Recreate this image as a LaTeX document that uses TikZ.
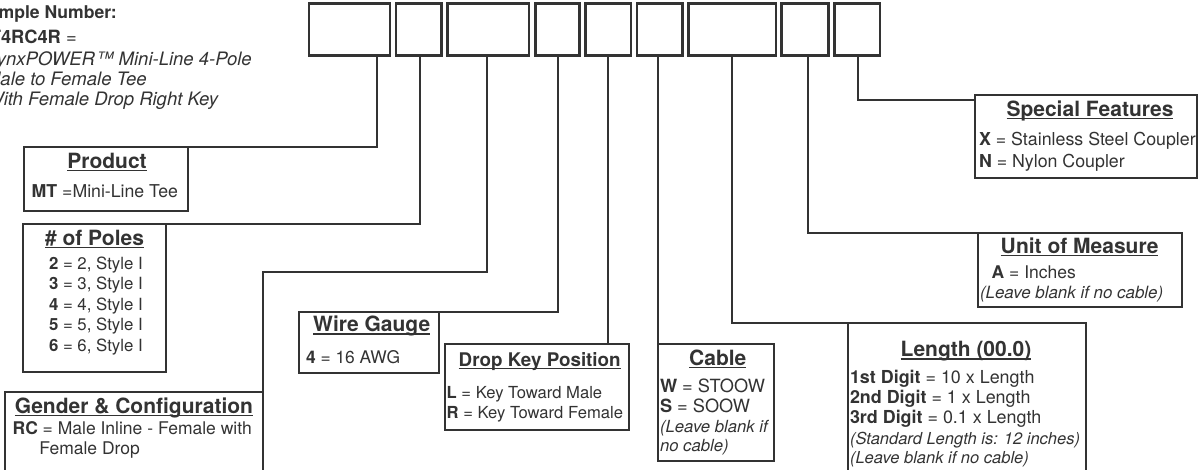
\documentclass[tikz,border=0pt]{standalone}
\usepackage{fontspec}
\setmainfont{TeX Gyre Heros}
\definecolor{ink}{HTML}{333333}
\newcommand{\hdrtext}[1]{\setbox0=\hbox{\bfseries #1}\rlap{\raisebox{-2.8pt}{\color{ink}\rule{\wd0}{1.3pt}}}\box0}
\newcommand{\fsz}[1]{\fontsize{#1}{#1}\selectfont}
\tikzset{
  codebox/.style={draw=ink, line width=2.4pt, inner sep=0pt, outer sep=0pt, anchor=north west, minimum height=52pt},
  descbox/.style={draw=ink, line width=2pt, inner sep=0pt, outer sep=0pt, anchor=north west},
  conn/.style={draw=ink, line width=2pt},
  txt/.style={inner sep=0pt, outer sep=0pt, text=ink, anchor=base west},
  hdr/.style={inner sep=0pt, outer sep=0pt, text=ink, anchor=base, font=\fsz{21}},
}
\begin{document}
\begin{tikzpicture}[x=1pt,y=-1pt]
\useasboundingbox[fill=white] (0,0) rectangle (1199,469);

% example text (clipped at left edge)
\node[txt, anchor=base east, font=\fsz{17.6}] (ex1) at (116.7,18.3) {\textbf{Example Number:}};
\node[txt, anchor=base east, font=\fsz{18.3}] (ex2) at (76.7,43.3) {\textbf{MT4RC4R} =};
\node[txt, anchor=base east, font=\fsz{18.5}\itshape] (ex3) at (251.7,65) {LynxPOWER™ Mini-Line 4-Pole};
\node[txt, anchor=base east, font=\fsz{18.5}\itshape] (ex4) at (146.7,85.5) {Male to Female Tee};
\node[txt, anchor=base east, font=\fsz{18.5}\itshape] (ex5) at (218,105.5) {With Female Drop Right Key};

% code boxes
\node[codebox, minimum width=81pt]   (c1) at (309,3.5) {};
\node[codebox, minimum width=45.5pt] (c2) at (396,3.5) {};
\node[codebox, minimum width=81.5pt] (c3) at (447.5,3.5) {};
\node[codebox, minimum width=44pt]   (c4) at (535.5,3.5) {};
\node[codebox, minimum width=45.5pt] (c5) at (585.5,3.5) {};
\node[codebox, minimum width=45.5pt] (c6) at (637,3.5) {};
\node[codebox, minimum width=87.5pt] (c7) at (688.5,3.5) {};
\node[codebox, minimum width=47pt]   (c8) at (781.5,3.5) {};
\node[codebox, minimum width=45.5pt] (c9) at (834.5,3.5) {};

% description boxes
\node[descbox, minimum width=164pt, minimum height=64pt]    (prod)    at (24,147) {};
\node[descbox, minimum width=142.7pt, minimum height=148pt] (poles)   at (23,224) {};
\node[descbox, minimum width=258pt, minimum height=90pt]    (gender)  at (5,392) {};
\node[descbox, minimum width=139.7pt, minimum height=61pt]  (wire)    at (299.3,311.5) {};
\node[descbox, minimum width=184.3pt, minimum height=85.7pt](drop)    at (445,344.3) {};
\node[descbox, minimum width=116pt, minimum height=117pt]   (cable)   at (658.3,343.5) {};
\node[descbox, minimum width=238pt, minimum height=160pt]   (length)  at (847.5,322.5) {};
\node[descbox, minimum width=204pt, minimum height=73.7pt]  (unit)    at (977.7,233.3) {};
\node[descbox, minimum width=222pt, minimum height=83.3pt]  (special) at (975,95) {};

% tick coordinates under the code boxes
\coordinate (t1) at (376.7,55.5);
\coordinate (t2) at (420,55.5);
\coordinate (t3) at (487.3,55.5);
\coordinate (t4) at (557.7,55.5);
\coordinate (t5) at (608.3,55.5);
\coordinate (t6) at (658.3,55.5);
\coordinate (t7) at (731.5,55.5);
\coordinate (t8) at (808,55.5);
\coordinate (t9) at (858,55.5);
\coordinate (k3) at (487.3,272);
\coordinate (k9) at (975,100);

% connectors
\draw[conn] (t1) |- (prod.north east);
\draw[conn] (t2) |- (poles.north east);
\draw[conn] (t3) -- (k3) -| (gender.north east);
\draw[conn] (t4) |- (wire.north east);
\draw[conn] (t5) -- (t5 |- drop.north);
\draw[conn] (t6) -- (cable.north west);
\draw[conn] (t7) |- (length.north west);
\draw[conn] (t8) |- (unit.north west);
\draw[conn] (t9) |- (k9);

% Product
\node[hdr] (prodH) at (107,168.3) {\hdrtext{Product}};
\node[txt, font=\fsz{17.7}] (prod1) at (31.7,197.7) {\textbf{MT} =Mini-Line Tee};

% Poles
\node[hdr] (polesH) at (94.5,245) {\hdrtext{\# of Poles}};
\node[txt, font=\fsz{16.8}] (poles1) at (49,269) {\textbf{2} = 2, Style I};
\node[txt, font=\fsz{16.8}] (poles2) at (49,289.5) {\textbf{3} = 3, Style I};
\node[txt, font=\fsz{16.8}] (poles3) at (49,310) {\textbf{4} = 4, Style I};
\node[txt, font=\fsz{16.8}] (poles4) at (49,330.5) {\textbf{5} = 5, Style I};
\node[txt, font=\fsz{16.8}] (poles5) at (49,351) {\textbf{6} = 6, Style I};

% Gender
\node[hdr] (genderH) at (134,413.3) {\hdrtext{Gender \& Configuration}};
\node[txt, font=\fsz{17.5}] (gender1) at (12.7,434) {\textbf{RC} = Male Inline - Female with};
\node[txt, font=\fsz{17.5}] (gender2) at (39.3,454) {Female Drop};

% Wire
\node[hdr] (wireH) at (371.7,331.7) {\hdrtext{Wire Gauge}};
\node[txt, font=\fsz{17.4}] (wire1) at (306,363.3) {\textbf{4} = 16 AWG};

% Drop key
\node[hdr, font=\fsz{18.8}] (dropH) at (539.7,366) {\hdrtext{Drop Key Position}};
\node[txt, font=\fsz{16.6}] (drop1) at (446.7,398.3) {\textbf{L} = Key Toward Male};
\node[txt, font=\fsz{16.6}] (drop2) at (446.7,418.3) {\textbf{R} = Key Toward Female};

% Cable
\node[hdr] (cableH) at (717.8,365) {\hdrtext{Cable}};
\node[txt, font=\fsz{18.2}] (cable1) at (660,392.7) {\textbf{W} = STOOW};
\node[txt, font=\fsz{18.2}] (cable2) at (660,412.3) {\textbf{S} = SOOW};
\node[txt, font=\fsz{16.7}\itshape] (cable3) at (660,432) {(Leave blank if};
\node[txt, font=\fsz{16.7}\itshape] (cable4) at (660,451.7) {no cable)};

% Length
\node[hdr] (lengthH) at (966,356.7) {\hdrtext{Length (00.0)}};
\node[txt, font=\fsz{17.9}] (length1) at (850,383.3) {\textbf{1st Digit} = 10 x Length};
\node[txt, font=\fsz{17.9}] (length2) at (850,403.3) {\textbf{2nd Digit} = 1 x Length};
\node[txt, font=\fsz{17.9}] (length3) at (850,423.3) {\textbf{3rd Digit} = 0.1 x Length};
\node[txt, font=\fsz{16.5}\itshape] (length4) at (850,444) {(Standard Length is: 12 inches)};
\node[txt, font=\fsz{16.5}\itshape] (length5) at (850,463.3) {(Leave blank if no cable)};

% Unit
\node[hdr] (unitH) at (1079.6,253.3) {\hdrtext{Unit of Measure}};
\node[txt, font=\fsz{17.5}] (unit1) at (991.7,278.3) {\textbf{A} = Inches};
\node[txt, font=\fsz{16.9}\itshape] (unit2) at (980,298.5) {(Leave blank if no cable)};

% Special
\node[hdr] (specialH) at (1090,116) {\hdrtext{Special Features}};
\node[txt, font=\fsz{17.8}] (special1) at (979,145) {\textbf{X} = Stainless Steel Coupler};
\node[txt, font=\fsz{17.8}] (special2) at (979,167.3) {\textbf{N} = Nylon Coupler};
\end{tikzpicture}
\end{document}
